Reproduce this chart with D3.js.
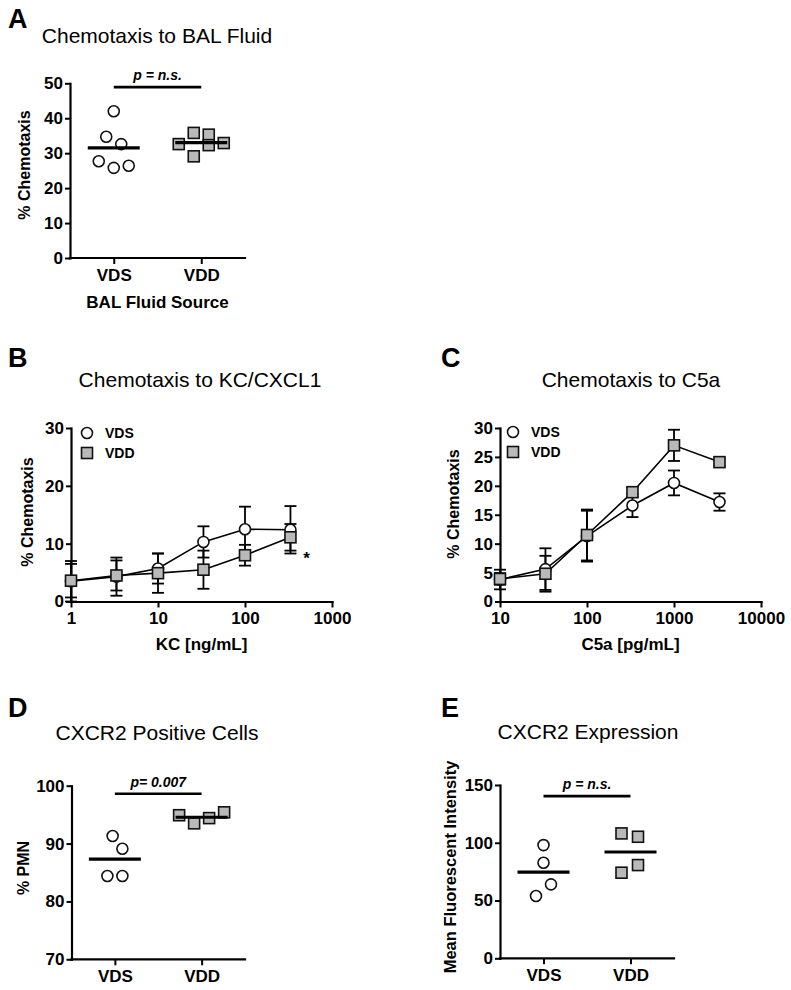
<!DOCTYPE html>
<html><head><meta charset="utf-8">
<script src="https://cdn.jsdelivr.net/npm/d3@7"></script>
<style>
body{margin:0;background:#fff}
svg text{font-family:"Liberation Sans",Arial,Helvetica,sans-serif;fill:#000}
</style>
</head><body>
<svg id="chart" width="791" height="990"></svg>
<script>
// ---------------- DATA ----------------
const groups = ["VDS", "VDD"];
const seriesNames = ["VDS", "VDD"];

// Panel A: Chemotaxis to BAL Fluid (% chemotaxis)
const balVDS = [42.0, 34.7, 32.6, 27.7, 25.8, 26.4];
const balVDD = [32.6, 35.8, 35.3, 32.3, 32.9, 29.1];
const balVDSslot = [0, -1, 1, -2, 0, 2];
const balVDDslot = [-3, -1, 1, 1, 3, -1];
const balTicks = [0, 10, 20, 30, 40, 50];

// Panel B: Chemotaxis to KC/CXCL1
const kcDose = [1, 3.33, 10, 33.3, 100, 333];
const kcVDSmean = [3.5, 4.3, 5.7, 10.3, 12.5, 12.4];
const kcVDSsd   = [3.5, 3.3, 2.6, 2.7, 3.9, 4.1];
const kcVDDmean = [3.6, 4.5, 4.9, 5.5, 8.0, 11.1];
const kcVDDsd   = [2.9, 2.6, 3.4, 3.3, 1.8, 2.3];
const kcYTicks = [0, 10, 20, 30];
const kcXTicks = [1, 10, 100, 1000];

// Panel C: Chemotaxis to C5a
const c5aDose = [10, 33.3, 100, 333, 1000, 3333];
const c5aVDSmean = [3.8, 5.6, 11.3, 16.6, 20.5, 17.2];
const c5aVDSsd   = [1.7, 3.6, 4.4, 2.0, 2.15, 1.5];
const c5aVDDmean = [3.9, 4.8, 11.5, 18.9, 27.0, 24.1];
const c5aVDDsd   = [1.0, 3.1, 4.4, 0.8, 2.7, 0.6];
const c5aYTicks = [0, 5, 10, 15, 20, 25, 30];
const c5aXTicks = [10, 100, 1000, 10000];

// Panel D: CXCR2 Positive Cells (% PMN)
const pmnVDS = [91.3, 89.1, 84.4, 84.4];
const pmnVDD = [94.9, 93.5, 94.4, 95.4];
const pmnVDSslot = [-0.3, 1, -1, 1];
const pmnVDDslot = [-3, -1, 1, 3];
const pmnTicks = [70, 80, 90, 100];

// Panel E: CXCR2 Expression (MFI)
const mfiVDS = [98.0, 82.7, 64.0, 53.9];
const mfiVDD = [108.1, 105.2, 80.7, 74.1];
const mfiVDSslot = [0, 0, 1, -1];
const mfiVDDslot = [-1.2, 1, 1, -1.2];
const mfiTicks = [0, 50, 100, 150];

// ---------------- DRAWING ----------------
const svg = d3.select("#chart");
const FILL_SQ = "#b9b9b9";
const STROKE = "#111";

function styleAxis(g, fs) {
  g.attr("font-family", null).attr("font-size", null);
  g.select(".domain").attr("stroke", "#000").attr("stroke-width", 2.2).attr("stroke-linecap", "square");
  g.selectAll(".tick line").attr("stroke", "#000").attr("stroke-width", 2);
  g.selectAll(".tick text").attr("font-weight", "bold").attr("font-size", fs).attr("fill", "#000");
}

function circleSym(sel, cx, cy) {
  sel.append("circle").attr("cx", cx).attr("cy", cy).attr("r", 5.5)
    .attr("fill", "#fff").attr("stroke", STROKE).attr("stroke-width", 1.6);
}
function squareSym(sel, cx, cy) {
  sel.append("rect").attr("x", cx - 5.5).attr("y", cy - 5.5).attr("width", 11).attr("height", 11)
    .attr("fill", FILL_SQ).attr("stroke", STROKE).attr("stroke-width", 1.6);
}

function panelLetter(txt, x, y) {
  svg.append("text").attr("x", x).attr("y", y).attr("font-size", 27).attr("font-weight", "bold").text(txt);
}
function panelTitle(txt, cx, y) {
  svg.append("text").attr("x", cx).attr("y", y).attr("text-anchor", "middle").attr("font-size", 21).text(txt);
}
function yLabel(txt, cx, cy, fs) {
  svg.append("text").attr("transform", `translate(${cx},${cy}) rotate(-90)`)
    .attr("text-anchor", "middle").attr("dy", "0.35em")
    .attr("font-size", fs).attr("font-weight", "bold").text(txt);
}

function dotPanel(o) {
  const x = d3.scalePoint().domain(groups).range([o.x0, o.x1]).padding(0.5);
  const y = d3.scaleLinear().domain(o.domain).range([o.yBot, o.yTop]);
  const g = svg.append("g");
  const ga = g.append("g").attr("transform", `translate(${o.x0},0)`)
    .call(d3.axisLeft(y).tickValues(o.ticks).tickSize(5).tickPadding(2).tickSizeOuter(0));
  styleAxis(ga, 17);
  const gx = g.append("g").attr("transform", `translate(0,${o.yBot})`)
    .call(d3.axisBottom(x).tickSize(6).tickPadding(5).tickSizeOuter(0));
  styleAxis(gx, 17);
  gx.select(".domain").attr("d", `M${o.x0},0H${o.x1}`);

  const unit = 7.5;
  const sets = [
    {name: "VDS", vals: o.vds, slots: o.vdsSlot, sym: circleSym},
    {name: "VDD", vals: o.vdd, slots: o.vddSlot, sym: squareSym}
  ];
  sets.forEach(s => {
    const cx0 = x(s.name);
    s.vals.forEach((v, i) => s.sym(g, cx0 + s.slots[i] * unit, y(v)));
    const m = d3.mean(s.vals);
    g.append("line").attr("x1", cx0 - 26).attr("x2", cx0 + 26)
      .attr("y1", y(m)).attr("y2", y(m)).attr("stroke", "#000").attr("stroke-width", 3.2);
  });
  const sy = y(o.sigY);
  g.append("line").attr("x1", x("VDS")).attr("x2", x("VDD")).attr("y1", sy).attr("y2", sy)
    .attr("stroke", "#000").attr("stroke-width", 2.6);
  g.append("text").attr("x", (x("VDS") + x("VDD")) / 2).attr("y", sy - 7)
    .attr("text-anchor", "middle").attr("font-size", 14).attr("font-weight", "bold")
    .attr("font-style", "italic").text(o.sigText);
  if (o.xlabel) {
    svg.append("text").attr("x", (o.x0 + o.x1) / 2).attr("y", o.xlabelY).attr("text-anchor", "middle")
      .attr("font-size", 17).attr("font-weight", "bold").text(o.xlabel);
  }
}

function linePanel(o) {
  const x = d3.scaleLog().domain(o.xdom).range([o.x0, o.x1]);
  const y = d3.scaleLinear().domain([0, 30]).range([o.yBot, o.yTop]);
  const g = svg.append("g");
  const ga = g.append("g").attr("transform", `translate(${o.x0},0)`)
    .call(d3.axisLeft(y).tickValues(o.yticks).tickSize(5).tickPadding(2).tickSizeOuter(0));
  styleAxis(ga, 17);
  const gx = g.append("g").attr("transform", `translate(0,${o.yBot})`)
    .call(d3.axisBottom(x).tickValues(o.xticks).tickFormat(d3.format("d")).tickSize(6).tickPadding(4).tickSizeOuter(0));
  styleAxis(gx, 17);

  const series = [
    {name: "VDS", mean: o.vdsMean, sd: o.vdsSd, sym: circleSym},
    {name: "VDD", mean: o.vddMean, sd: o.vddSd, sym: squareSym}
  ];
  const line = d3.line().x(d => x(d[0])).y(d => y(d[1]));
  series.forEach(s => {
    o.dose.forEach((dv, i) => {
      const cx = x(dv), lo = y(s.mean[i] - s.sd[i]), hi = y(s.mean[i] + s.sd[i]);
      g.append("line").attr("x1", cx).attr("x2", cx).attr("y1", lo).attr("y2", hi)
        .attr("stroke", "#000").attr("stroke-width", 1.8);
      [lo, hi].forEach(yy => g.append("line").attr("x1", cx - 6).attr("x2", cx + 6)
        .attr("y1", yy).attr("y2", yy).attr("stroke", "#000").attr("stroke-width", 1.8));
    });
  });
  series.forEach(s => {
    g.append("path").attr("d", line(o.dose.map((d, i) => [d, s.mean[i]])))
      .attr("fill", "none").attr("stroke", "#000").attr("stroke-width", 1.6);
  });
  series.forEach(s => {
    o.dose.forEach((dv, i) => s.sym(g, x(dv), y(s.mean[i])));
  });
  seriesNames.forEach((nm, i) => {
    const ly = o.legY + i * 20;
    (i === 0 ? circleSym : squareSym)(g, o.legX, ly);
    g.append("text").attr("x", o.legX + 18).attr("y", ly + 5)
      .attr("font-size", 14).attr("font-weight", "bold").text(nm);
  });
  svg.append("text").attr("x", (o.x0 + o.x1) / 2).attr("y", o.xlabelY).attr("text-anchor", "middle")
    .attr("font-size", 17).attr("font-weight", "bold").text(o.xlabel);
  return {x, y, g};
}

// ----- Panel A -----
panelLetter("A", 8, 28);
panelTitle("Chemotaxis to BAL Fluid", 157, 43);
yLabel("% Chemotaxis", 24, 165, 16);
dotPanel({x0: 70, x1: 245, yTop: 83.3, yBot: 258, domain: [0, 50], ticks: balTicks,
  vds: balVDS, vdd: balVDD, vdsSlot: balVDSslot, vddSlot: balVDDslot,
  sigY: 48.9, sigText: "p = n.s.", xlabel: "BAL Fluid Source", xlabelY: 308});

// ----- Panel B -----
panelLetter("B", 8, 367);
panelTitle("Chemotaxis to KC/CXCL1", 200, 387);
yLabel("% Chemotaxis", 27, 512, 16);
const pB = linePanel({x0: 71, x1: 332, yTop: 428, yBot: 601.5, xdom: [1, 1000],
  yticks: kcYTicks, xticks: kcXTicks, dose: kcDose,
  vdsMean: kcVDSmean, vdsSd: kcVDSsd, vddMean: kcVDDmean, vddSd: kcVDDsd,
  legX: 87, legY: 433, xlabel: "KC [ng/mL]", xlabelY: 650});
svg.append("text").attr("x", pB.x(kcDose[5]) + 16).attr("y", pB.y(kcVDDmean[5] - kcVDDsd[5]) + 13)
  .attr("text-anchor", "middle").attr("font-size", 17).attr("font-weight", "bold").text("*");

// ----- Panel C -----
panelLetter("C", 441, 367);
panelTitle("Chemotaxis to C5a", 631, 387);
yLabel("% Chemotaxis", 453, 504, 16);
linePanel({x0: 500, x1: 761, yTop: 428, yBot: 601.5, xdom: [10, 10000],
  yticks: c5aYTicks, xticks: c5aXTicks, dose: c5aDose,
  vdsMean: c5aVDSmean, vdsSd: c5aVDSsd, vddMean: c5aVDDmean, vddSd: c5aVDDsd,
  legX: 513, legY: 432, xlabel: "C5a [pg/mL]", xlabelY: 650});

// ----- Panel D -----
panelLetter("D", 8, 717);
panelTitle("CXCR2 Positive Cells", 157, 740);
yLabel("% PMN", 23, 868, 16);
dotPanel({x0: 71.5, x1: 245, yTop: 785.7, yBot: 959.3, domain: [70, 100], ticks: pmnTicks,
  vds: pmnVDS, vdd: pmnVDD, vdsSlot: pmnVDSslot, vddSlot: pmnVDDslot,
  sigY: 98.6, sigText: "p= 0.007"});

// ----- Panel E -----
panelLetter("E", 441, 717);
panelTitle("CXCR2 Expression", 588, 739);
yLabel("Mean Fluorescent Intensity", 450, 867, 16.5);
dotPanel({x0: 500, x1: 674, yTop: 785, yBot: 958.3, domain: [0, 150], ticks: mfiTicks,
  vds: mfiVDS, vdd: mfiVDD, vdsSlot: mfiVDSslot, vddSlot: mfiVDDslot,
  sigY: 140.4, sigText: "p = n.s."});
</script>
</body></html>
